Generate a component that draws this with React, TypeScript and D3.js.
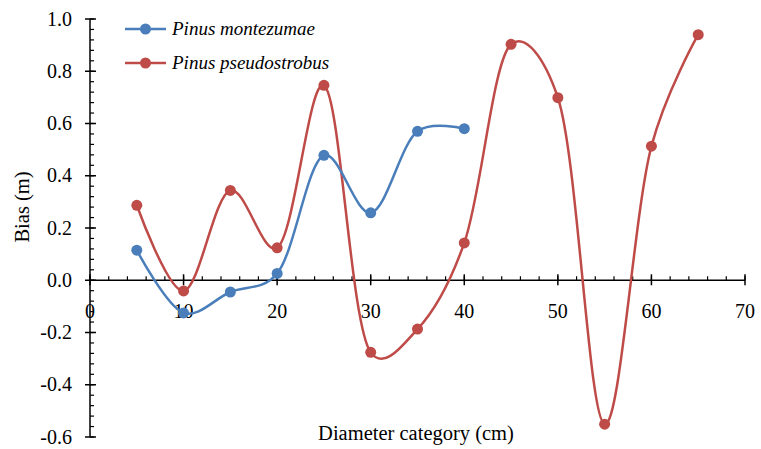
import React from "react";
import * as d3 from "d3";

// diameter categories (cm)
const montezumaeX = [5, 10, 15, 20, 25, 30, 35, 40];
const montezumaeBias = [0.115, -0.125, -0.045, 0.026, 0.478, 0.258, 0.57, 0.58];

const pseudostrobusX = [5, 10, 15, 20, 25, 30, 35, 40, 45, 50, 55, 60, 65];
const pseudostrobusBias = [0.287, -0.041, 0.344, 0.124, 0.746, -0.276, -0.187, 0.143, 0.903, 0.699, -0.551, 0.513, 0.94];

const xTicks = [0, 10, 20, 30, 40, 50, 60, 70];
const yTicks = [-0.6, -0.4, -0.2, 0.0, 0.2, 0.4, 0.6, 0.8, 1.0];

const seriesNames = ["Pinus montezumae", "Pinus pseudostrobus"];
const seriesColors = ["#4a7ebb", "#be4b48"];

const FONT = "Liberation Serif";

const x = d3.scaleLinear().domain([0, 70]).range([90, 745]);
const y = d3.scaleLinear().domain([-0.6, 1.0]).range([437, 19]);

// smoothed line, somewhere between uniform and centripetal Catmull-Rom
const line = d3
  .line<[number, number]>()
  .x((d) => x(d[0]))
  .y((d) => y(d[1]))
  .curve(d3.curveCatmullRom.alpha(0.25));

const series = [
  d3.zip(montezumaeX, montezumaeBias) as [number, number][],
  d3.zip(pseudostrobusX, pseudostrobusBias) as [number, number][],
];

const yMinor = d3.range(-0.6, 1.0001, 0.04);
const xMinor = d3.range(0, 70.001, 2);

const App = () => {
  const x0 = x(0);
  const y0 = y(0);
  return (
    <svg width={761} height={449} style={{ position: "absolute", left: 0, top: 0, background: "#fff" }}>
      {/* y axis */}
      <g stroke="#000">
        <line x1={x0} x2={x0} y1={y(1.0)} y2={y(-0.6)} strokeWidth={1.5} />
        {yMinor.map((v, i) => (
          <line key={"ym" + i} x1={x0} x2={x0 + 4} y1={y(v)} y2={y(v)} strokeWidth={1.2} />
        ))}
        {yTicks.map((v) => (
          <line key={"yt" + v} x1={x0 - 5} x2={x0 + 6} y1={y(v)} y2={y(v)} strokeWidth={1.5} />
        ))}
      </g>
      {yTicks.map((v) => (
        <text key={"yl" + v} x={72} y={y(v)} dy="0.33em" textAnchor="end" fontSize={20} style={{ fontFamily: FONT }}>
          {v.toFixed(1)}
        </text>
      ))}

      {/* x axis along zero */}
      <g stroke="#000">
        <line x1={x0} x2={x(70)} y1={y0} y2={y0} strokeWidth={1.5} />
        {xMinor.map((v) => (
          <line key={"xm" + v} x1={x(v)} x2={x(v)} y1={y0 - 4} y2={y0} strokeWidth={1.2} />
        ))}
        {xTicks.map((v) => (
          <line key={"xt" + v} x1={x(v)} x2={x(v)} y1={y0 - 6} y2={y0 + 5} strokeWidth={1.5} />
        ))}
      </g>
      {xTicks.map((v) => (
        <text key={"xl" + v} x={x(v)} y={318} textAnchor="middle" fontSize={20} style={{ fontFamily: FONT }}>
          {v}
        </text>
      ))}

      {/* axis titles */}
      <text x={416} y={440} textAnchor="middle" fontSize={20.5} style={{ fontFamily: FONT }}>
        Diameter category (cm)
      </text>
      <text transform="translate(29,207) rotate(-90)" textAnchor="middle" fontSize={20.5} style={{ fontFamily: FONT }}>
        Bias (m)
      </text>

      {/* series, blue on top */}
      {[1, 0].map((i) => (
        <g key={"s" + i}>
          <path d={line(series[i]) || ""} fill="none" stroke={seriesColors[i]} strokeWidth={2.5} />
          {series[i].map((d) => (
            <circle key={d[0]} cx={x(d[0])} cy={y(d[1])} r={5.5} fill={seriesColors[i]} />
          ))}
        </g>
      ))}

      {/* legend */}
      {seriesNames.map((name, i) => {
        const ly = 29 + i * 34;
        return (
          <g key={name}>
            <line x1={125} x2={166} y1={ly} y2={ly} stroke={seriesColors[i]} strokeWidth={2.5} />
            <circle cx={145.5} cy={ly} r={5.5} fill={seriesColors[i]} />
            <text x={172} y={ly} dy="0.33em" fontSize={19} fontStyle="italic" style={{ fontFamily: FONT }}>
              {name}
            </text>
          </g>
        );
      })}
    </svg>
  );
};

export default App;
